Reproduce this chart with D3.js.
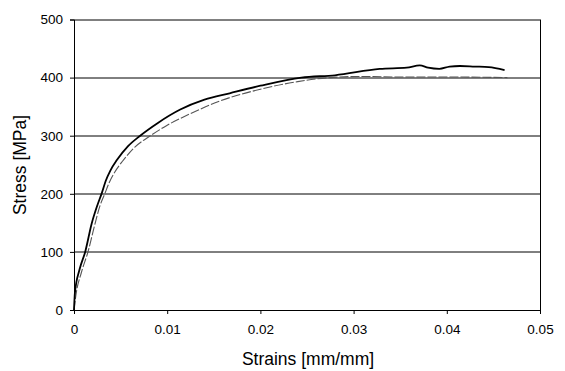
<!DOCTYPE html>
<meta charset="utf-8">
<style>
body { margin: 0; background: #fff; }
svg { font-family: "Liberation Sans", Arial, sans-serif; }
.tick text { font-size: 13.5px; fill: #000; }
.axis path, .axis line { stroke: #000; }
.label { font-size: 17.5px; fill: #000; }
</style>
<svg width="565" height="371"></svg>
<script src="https://cdn.jsdelivr.net/npm/d3@7"></script>
<script>

// solid curve (test)
var strainTest = [0, 0.0001, 0.0006, 0.0012, 0.0019, 0.0025, 0.003, 0.0034, 0.0039, 0.0046, 0.0058, 0.0071, 0.009, 0.0114, 0.014, 0.0167, 0.02, 0.0244, 0.028, 0.0328, 0.0357, 0.0371, 0.038, 0.0392, 0.0403, 0.0414, 0.043, 0.0445, 0.0462];
var stressTest = [0, 30, 70, 100, 149, 180, 202, 222, 240, 258, 282, 300, 322, 345, 362, 373, 386, 400, 404, 415, 417, 421, 417, 415, 419, 420, 419, 418, 413];

// thin dashed curve (model)
var strainModel = [0, 0.0002, 0.0008, 0.0015, 0.0022, 0.0028, 0.0033, 0.0038, 0.0044, 0.0052, 0.0065, 0.0082, 0.01, 0.0125, 0.0157, 0.02, 0.024, 0.0275, 0.031, 0.035, 0.04, 0.0465];
var stressModel = [0, 25, 65, 100, 145, 180, 200, 220, 238, 256, 280, 300, 318, 338, 360, 380, 393, 400, 402, 401, 401, 400];

var xTicks = [0, 0.01, 0.02, 0.03, 0.04, 0.05];
var yTicks = [0, 100, 200, 300, 400, 500];

var svg = d3.select("svg"),
    margin = {top: 19.5, right: 25, bottom: 61, left: 74},
    width = +svg.attr("width") - margin.left - margin.right,
    height = +svg.attr("height") - margin.top - margin.bottom;

var x = d3.scaleLinear().domain([0, 0.05]).range([0, width]),
    y = d3.scaleLinear().domain([0, 500]).range([height, 0]);

var g = svg.append("g")
    .attr("transform", "translate(" + margin.left + "," + margin.top + ")");

// gridlines
g.selectAll(".grid")
  .data(yTicks.slice(1))
  .enter().append("line")
    .attr("class", "grid")
    .attr("x1", 0)
    .attr("x2", width)
    .attr("y1", function(d) { return Math.round(y(d)) + 0.5; })
    .attr("y2", function(d) { return Math.round(y(d)) + 0.5; })
    .attr("stroke", "#000")
    .attr("stroke-width", 1);

// right border
g.append("line")
    .attr("x1", width + 0.5).attr("x2", width + 0.5)
    .attr("y1", 0).attr("y2", height)
    .attr("stroke", "#000");

g.append("g")
    .attr("class", "axis")
    .attr("transform", "translate(0," + height + ")")
    .call(d3.axisBottom(x).tickValues(xTicks).tickSize(4).tickPadding(10)
      .tickFormat(function(d) { return d === 0 ? "0" : d3.format(".2f")(d); }));

g.append("g")
    .attr("class", "axis")
    .call(d3.axisLeft(y).tickValues(yTicks).tickSize(4).tickPadding(7));

var line = d3.line()
    .x(function(d) { return x(d[0]); })
    .y(function(d) { return y(d[1]); })
    .curve(d3.curveMonotoneX);

g.append("path")
    .datum(d3.zip(strainModel, stressModel))
    .attr("fill", "none")
    .attr("stroke", "#555")
    .attr("stroke-width", 1.1)
    .attr("stroke-dasharray", "9,2")
    .attr("d", line);

g.append("path")
    .datum(d3.zip(strainTest, stressTest))
    .attr("fill", "none")
    .attr("stroke", "#000")
    .attr("stroke-width", 1.8)
    .attr("d", line);

svg.append("text")
    .attr("class", "label")
    .attr("x", 308)
    .attr("y", 365)
    .attr("text-anchor", "middle")
    .text("Strains [mm/mm]");

svg.append("text")
    .attr("class", "label")
    .attr("transform", "translate(26,165) rotate(-90)")
    .attr("text-anchor", "middle")
    .text("Stress [MPa]");

</script>
